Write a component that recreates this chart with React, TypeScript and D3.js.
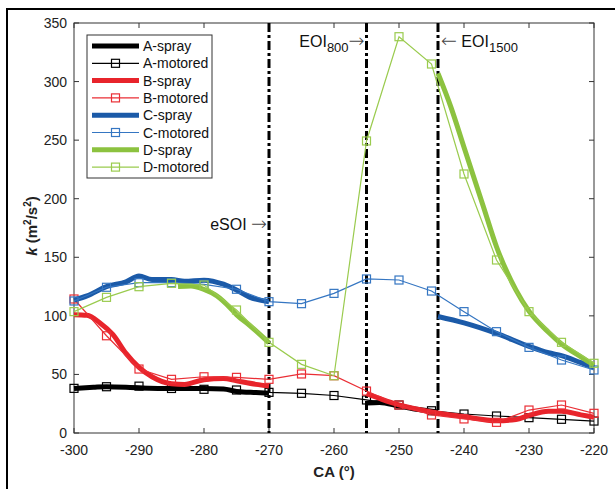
import React from "react";
import * as d3 from "d3";

type P = [number, number];

const motoredCA = [-300, -295, -290, -285, -280, -275, -270, -265, -260, -255, -250, -245, -240, -235, -230, -225, -220];
const aMotored = [38.1, 39.5, 40, 38, 37.3, 36.7, 34.7, 33.9, 32, 28.2, 23.9, 19, 16.2, 14.5, 13.1, 11.7, 10.2];
const bMotored = [114.4, 83, 54.6, 45.8, 48, 47.5, 45.8, 50.4, 48.9, 35.8, 23.9, 15.4, 12, 9.1, 19.6, 23.9, 16.8];
const cMotored = [112.7, 124.4, 128.3, 128.3, 126.9, 122.7, 112.1, 110.4, 119.2, 131.5, 130.6, 121.2, 103.6, 86.5, 73.1, 62.3, 53.8];
const dMotored = [103.6, 115.8, 124.9, 127.8, 126.3, 105, 77.4, 58.6, 48.9, 249.3, 338.3, 315, 221.1, 147.7, 103.6, 77.4, 59.5];

const aSpray1: P[] = [[-300, 38], [-297, 39], [-295, 39.5], [-290, 38.5], [-285, 38], [-280, 38], [-277, 37.5], [-275, 35.5], [-272, 34.5], [-270, 34]];
const aSpray2: P[] = [[-255, 25.5], [-253, 26], [-250, 23], [-247, 20], [-244, 18]];
const bSpray1: P[] = [[-300, 101], [-298, 100.5], [-296, 94], [-294, 84], [-292, 68], [-290, 56], [-288, 48], [-285, 42], [-283, 41.5], [-280, 45.5], [-277, 46.5], [-275, 44.5], [-272, 41.5], [-270, 40]];
const bSpray2: P[] = [[-255, 33.5], [-253, 29.5], [-250, 24], [-245, 18], [-240, 14], [-235, 10.5], [-232, 11.5], [-230, 15], [-227, 18.5], [-225, 18.5], [-222, 15.5], [-220, 13.5]];
const cSpray1: P[] = [[-300, 113.5], [-298, 117], [-295, 125], [-292, 129], [-290, 134], [-288, 131], [-285, 131], [-283, 129.5], [-280, 130.5], [-277, 127], [-275, 122], [-273, 116], [-270, 112]];
const cSpray2: P[] = [[-244, 99.5], [-240, 94], [-235, 85], [-230, 74], [-227, 68.5], [-225, 66], [-222, 60], [-220, 56]];
const dSpray1: P[] = [[-284, 125], [-282, 125.5], [-280, 122.5], [-278, 117], [-276, 107], [-275, 101], [-273, 92], [-270, 77]];
const dSpray2: P[] = [[-244, 307], [-242, 278], [-240, 244], [-237, 193], [-235, 159], [-232, 122], [-230, 104], [-227, 86], [-225, 76], [-222, 65], [-220, 58]];

const xTicks = [-300, -290, -280, -270, -260, -250, -240, -230, -220];
const yTicks = [0, 50, 100, 150, 200, 250, 300, 350];
const eventLines = [-270, -255, -244];

const colors = {
  aS: "#000000", aM: "#000000",
  bS: "#e8242b", bM: "#ea2e35",
  cS: "#1b5aa8", cM: "#3576c2",
  dS: "#8cc23f", dM: "#9acb4e",
};

const legendItems = [
  { label: "A-spray", color: colors.aS, spray: true },
  { label: "A-motored", color: colors.aM, spray: false },
  { label: "B-spray", color: colors.bS, spray: true },
  { label: "B-motored", color: colors.bM, spray: false },
  { label: "C-spray", color: colors.cS, spray: true },
  { label: "C-motored", color: colors.cM, spray: false },
  { label: "D-spray", color: colors.dS, spray: true },
  { label: "D-motored", color: colors.dM, spray: false },
];

const FONT = "'Liberation Sans', Arial, sans-serif";
const ARROW_FONT = "'DejaVu Sans', sans-serif";

export default function App() {
  const L = 74, R = 594, T = 23, B = 433;
  const x = d3.scaleLinear().domain([-300, -220]).range([L, R]);
  const y = d3.scaleLinear().domain([0, 350]).range([B, T]);
  const sprayLine = d3.line<P>().x(d => x(d[0])).y(d => y(d[1])).curve(d3.curveMonotoneX);
  const motLine = d3.line<number>().x((_, i) => x(motoredCA[i])).y(d => y(d));
  const axisColor = "#333";

  const spray = (data: P[], color: string, key: string) => (
    <path key={key} d={sprayLine(data) || ""} fill="none" stroke={color} strokeWidth={5} strokeLinejoin="round" />
  );
  const motored = (data: number[], color: string, key: string) => (
    <g key={key}>
      <path d={motLine(data) || ""} fill="none" stroke={color} strokeWidth={1.2} />
      {data.map((v, i) => (
        <rect key={i} x={x(motoredCA[i]) - 4} y={y(v) - 4} width={8} height={8} fill="none" stroke={color} strokeWidth={1.2} />
      ))}
    </g>
  );

  return (
    <svg width={615} height={489} style={{ position: "absolute", left: 0, top: 0, background: "#fff" }} fontFamily={FONT}>
      <rect x={7} y={9} width={620} height={500} fill="none" stroke="#000" strokeWidth={2} />
      {/* axes box */}
      <rect x={L} y={T} width={R - L} height={B - T} fill="#fff" stroke={axisColor} strokeWidth={1} />
      {xTicks.map(t => (
        <g key={"xt" + t}>
          <line x1={x(t)} x2={x(t)} y1={B} y2={B - 5} stroke={axisColor} />
          <line x1={x(t)} x2={x(t)} y1={T} y2={T + 5} stroke={axisColor} />
          <text x={x(t)} y={455} fontSize={14} textAnchor="middle" fill="#222">{t}</text>
        </g>
      ))}
      {yTicks.map(t => (
        <g key={"yt" + t}>
          <line x1={L} x2={L + 5} y1={y(t)} y2={y(t)} stroke={axisColor} />
          <line x1={R} x2={R - 5} y1={y(t)} y2={y(t)} stroke={axisColor} />
          <text x={67} y={y(t) + 5} fontSize={14} textAnchor="end" fill="#222">{t}</text>
        </g>
      ))}
      <text x={(L + R) / 2} y={477} fontSize={15} fontWeight="bold" textAnchor="middle" fill="#222">CA (°)</text>
      <text transform={`translate(37,${226}) rotate(-90)`} fontSize={15} fontWeight="bold" textAnchor="middle" fill="#222">
        <tspan fontStyle="italic">k</tspan> (m<tspan dy={-6} fontSize={10}>2</tspan><tspan dy={6}>/s</tspan><tspan dy={-6} fontSize={10}>2</tspan><tspan dy={6}>)</tspan>
      </text>

      {/* event lines */}
      {eventLines.map(e => (
        <line key={"ev" + e} x1={x(e)} x2={x(e)} y1={T} y2={B} stroke="#000" strokeWidth={3} strokeDasharray="9,3,3,3" />
      ))}

      {/* series */}
      {spray(aSpray1, colors.aS, "a1")}
      {spray(aSpray2, colors.aS, "a2")}
      {motored(aMotored, colors.aM, "am")}
      {spray(bSpray1, colors.bS, "b1")}
      {spray(bSpray2, colors.bS, "b2")}
      {motored(bMotored, colors.bM, "bm")}
      {spray(cSpray1, colors.cS, "c1")}
      {spray(cSpray2, colors.cS, "c2")}
      {motored(cMotored, colors.cM, "cm")}
      {spray(dSpray1, colors.dS, "d1")}
      {spray(dSpray2, colors.dS, "d2")}
      {motored(dMotored, colors.dM, "dm")}

      {/* annotations */}
      <text x={x(-270) - 2} y={230} fontSize={16} textAnchor="end" fill="#111">eSOI <tspan fontFamily={ARROW_FONT} fontSize={19} fontWeight={200} fill="#444">→</tspan></text>
      <text x={x(-255) - 2} y={47} fontSize={16} textAnchor="end" fill="#111">EOI<tspan fontSize={13} dy={5}>800</tspan><tspan fontFamily={ARROW_FONT} fontSize={19} fontWeight={200} dy={-5} fill="#444">→</tspan></text>
      <text x={x(-244) + 3} y={47} fontSize={16} textAnchor="start" fill="#111"><tspan fontFamily={ARROW_FONT} fontSize={19} fontWeight={200} fill="#444">←</tspan> EOI<tspan fontSize={13} dy={5}>1500</tspan></text>

      {/* legend */}
      <rect x={87} y={35} width={125} height={143} fill="#fff" stroke={axisColor} strokeWidth={1} />
      {legendItems.map((it, i) => {
        const cy = 46 + i * 17.3;
        return (
          <g key={it.label}>
            <line x1={92} x2={139} y1={cy} y2={cy} stroke={it.color} strokeWidth={it.spray ? 5 : 1.2} />
            {!it.spray && <rect x={115.5 - 4} y={cy - 4} width={8} height={8} fill="none" stroke={it.color} strokeWidth={1.2} />}
            <text x={143} y={cy + 5} fontSize={14} fill="#111">{it.label}</text>
          </g>
        );
      })}
    </svg>
  );
}
